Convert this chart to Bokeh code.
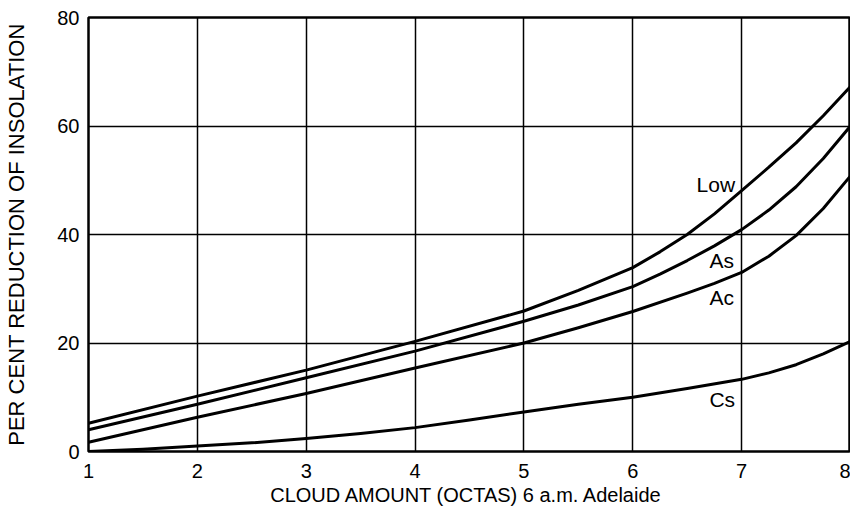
from bokeh.plotting import figure
from bokeh.models import Range1d, FixedTicker, Label
from bokeh.embed import file_html
from bokeh.resources import INLINE

# ---- data ----
x_ticks = [1, 2, 3, 4, 5, 6, 7, 8]
y_ticks = [0, 20, 40, 60, 80]

low_x = [1, 2, 3, 4, 5, 5.5, 6, 6.25, 6.5, 6.75, 7, 7.25, 7.5, 7.75, 8]
low_y = [5.2, 10.2, 15.0, 20.3, 25.9, 29.7, 33.9, 36.8, 40.0, 43.8, 48.1, 52.4, 56.9, 61.9, 67.3]

as_x = [1, 2, 3, 4, 5, 5.5, 6, 6.25, 6.5, 6.75, 7, 7.25, 7.5, 7.75, 8]
as_y = [4.0, 8.7, 13.6, 18.5, 24.0, 27.0, 30.4, 32.7, 35.2, 37.9, 40.9, 44.5, 48.8, 54.0, 60.0]

ac_x = [1, 2, 3, 4, 5, 5.5, 6, 6.5, 6.75, 7, 7.25, 7.5, 7.75, 8]
ac_y = [1.7, 6.3, 10.7, 15.4, 20.0, 22.8, 25.8, 29.2, 31.0, 33.0, 36.0, 39.8, 44.8, 50.8]

cs_x = [1, 1.5, 2, 2.5, 3, 3.5, 4, 4.5, 5, 5.5, 6, 6.5, 7, 7.25, 7.5, 7.75, 8]
cs_y = [0.0, 0.4, 1.0, 1.6, 2.4, 3.3, 4.4, 5.8, 7.3, 8.7, 10.0, 11.6, 13.3, 14.5, 16.0, 18.0, 20.3]

series_names = ["Low", "As", "Ac", "Cs"]

x_title = "CLOUD AMOUNT (OCTAS)  6 a.m. Adelaide"
y_title = "PER CENT REDUCTION OF INSOLATION"

FONT = "Liberation Sans"

p = figure(width=850, height=508,
           x_range=Range1d(1, 8), y_range=Range1d(0, 80),
           output_backend="svg", toolbar_location=None,
           min_border_left=88, min_border_right=0,
           min_border_top=17, min_border_bottom=56)

p.background_fill_color = "white"
p.border_fill_color = "white"
p.outline_line_color = "black"
p.outline_line_width = 2.5

p.xaxis.ticker = FixedTicker(ticks=x_ticks)
p.yaxis.ticker = FixedTicker(ticks=y_ticks)

for ax in (p.xaxis[0], p.yaxis[0]):
    ax.axis_line_color = None
    ax.major_tick_line_color = None
    ax.minor_tick_line_color = None
    ax.major_label_text_font = FONT
    ax.major_label_text_font_size = "20px"
    ax.major_label_text_color = "black"
    ax.axis_label_text_font = FONT
    ax.axis_label_text_font_style = "normal"
    ax.axis_label_text_color = "black"

p.xaxis.major_label_standoff = 6
p.yaxis.major_label_standoff = 3

p.xaxis.axis_label = x_title
p.xaxis.axis_label_text_font_size = "20px"
p.xaxis.axis_label_standoff = 3

p.yaxis.axis_label = y_title
p.yaxis.axis_label_text_font_size = "22px"
p.yaxis.axis_label_standoff = 25

p.grid.grid_line_color = "black"
p.grid.grid_line_width = 1.5
p.grid.grid_line_alpha = 1.0

for xs, ys in ((low_x, low_y), (as_x, as_y), (ac_x, ac_y), (cs_x, cs_y)):
    p.line(xs, ys, line_color="black", line_width=3, line_join="round")

label_pos = {"Low": (6.94, 49.3), "As": (6.93, 35.2), "Ac": (6.93, 28.4), "Cs": (6.94, 9.6)}
for name in series_names:
    lx, ly = label_pos[name]
    p.add_layout(Label(x=lx, y=ly, text=name, text_font=FONT, text_font_size="21px",
                       text_align="right", text_baseline="middle", text_color="black"))

open("out.html", "w").write(file_html(p, INLINE))
